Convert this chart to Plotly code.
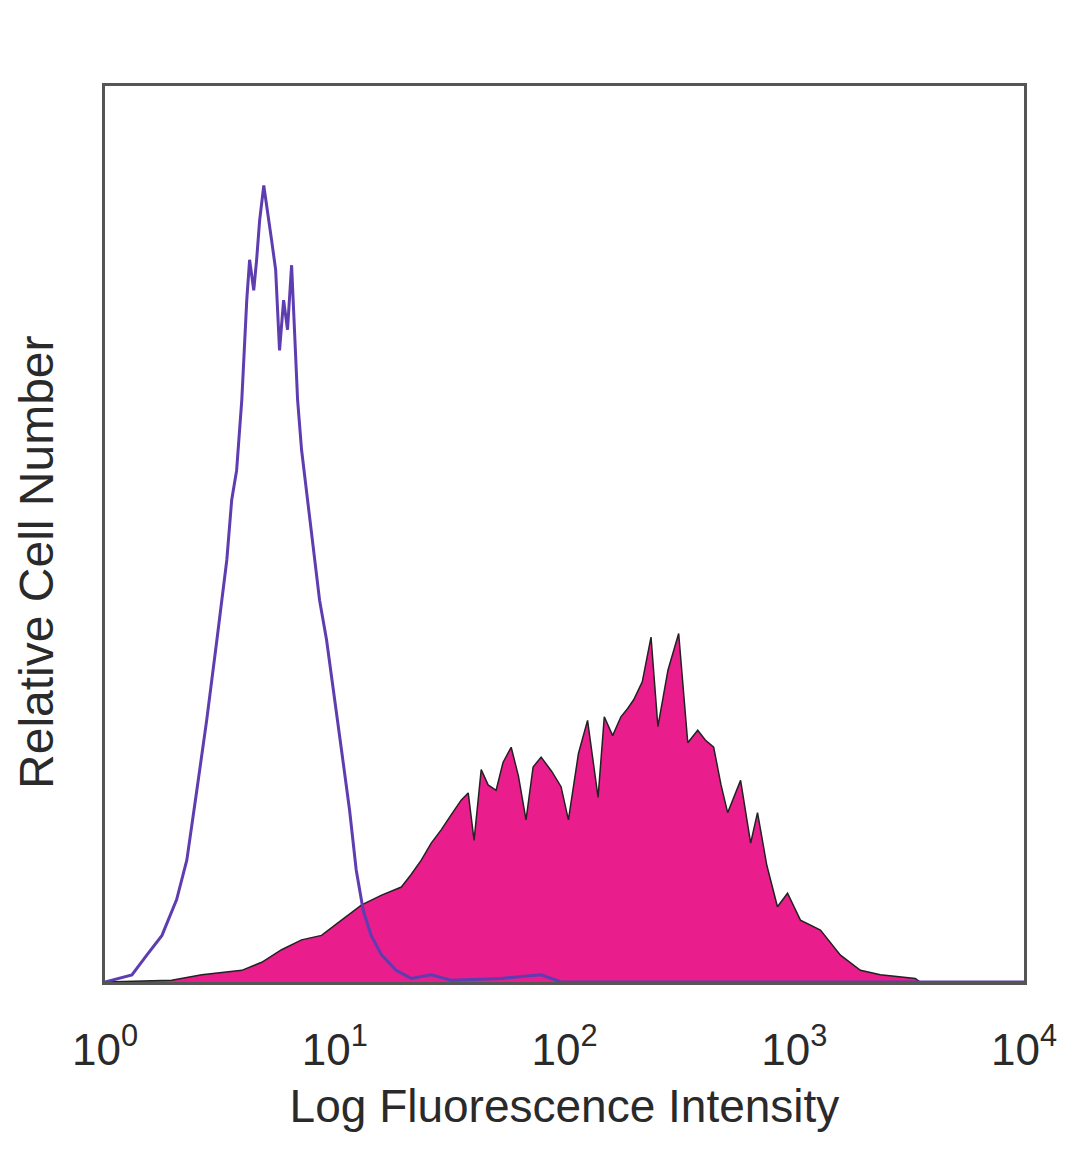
import plotly.graph_objects as go

# Isotype control (purple outline) - fluorescence intensity and relative count
control_x = [1.0, 1.31, 1.52, 1.77, 2.05, 2.27, 2.51, 2.77, 3.07, 3.39, 3.56, 3.74, 3.94, 4.14,
             4.26, 4.44, 4.57, 4.71, 4.91, 5.10, 5.31, 5.53, 5.75, 5.99, 6.23, 6.49, 6.69, 6.89,
             7.17, 7.54, 7.93, 8.59, 9.21, 9.88, 10.7, 11.6, 12.4, 13.3, 14.4, 16.0, 18.5, 21.5,
             26.3, 32.1, 53.0, 79.1, 96.6, 10000]
control_y = [0, 0.8, 3.0, 5.2, 9.2, 13.6, 21.4, 29.2, 38.2, 47.1, 53.8, 57.1, 65.0, 76.1,
             80.6, 77.2, 80.6, 85.0, 88.9, 86.2, 82.8, 79.5, 70.5, 76.1, 72.8, 80.0, 71.6, 65.0,
             59.4, 54.9, 50.4, 42.6, 38.2, 32.6, 25.9, 19.2, 12.5, 8.0, 5.2, 3.0, 1.3, 0.4,
             0.8, 0.2, 0.4, 0.8, 0, 0]

# Stained sample (filled magenta)
stained_x = [1.0, 1.95, 2.64, 3.94, 4.81, 5.87, 7.17, 8.76, 10.7, 13.1, 16.0, 19.5, 21.5, 23.8,
             26.3, 29.1, 32.0, 35.5, 38.1, 40.4, 43.4, 46.5, 50.4, 54.0, 58.6, 63.0, 68.0, 73.0,
             79.1, 88.0, 96.6, 104, 115, 126, 140, 149, 162, 176, 188, 200, 218, 238, 255, 282,
             314, 344, 380, 410, 446, 480, 513, 584, 646, 692, 760, 845, 935, 1064, 1300,
             1589, 1941, 2371, 3365, 3533, 10000]
stained_y = [0, 0.2, 0.8, 1.3, 2.2, 3.6, 4.7, 5.2, 6.9, 8.6, 9.7, 10.6, 12.0, 13.6,
             15.5, 17.0, 18.6, 20.3, 21.1, 15.8, 23.7, 22.0, 21.4, 24.5, 26.2, 23.0, 18.1, 24.0,
             25.1, 23.5, 21.8, 18.1, 25.5, 29.2, 20.6, 29.6, 27.5, 29.6, 30.5,
             31.5, 33.5, 38.5, 28.5, 34.8, 38.9, 26.7, 28.1, 27.0, 26.2, 22.0, 18.9, 22.5, 15.5,
             18.9, 13.0, 8.4, 9.9, 6.9, 5.8, 3.0, 1.3, 0.8, 0.4, 0, 0]

tick_vals = [1, 10, 100, 1000, 10000]
tick_text = ["10<sup>0</sup>", "10<sup>1</sup>", "10<sup>2</sup>", "10<sup>3</sup>", "10<sup>4</sup>"]

fig = go.Figure()
fig.add_trace(go.Scatter(
    x=stained_x, y=stained_y, mode="lines", fill="tozeroy",
    fillcolor="#E91E8C", line=dict(color="#222222", width=1.5),
    showlegend=False, hoverinfo="skip"))
fig.add_trace(go.Scatter(
    x=control_x, y=control_y, mode="lines",
    line=dict(color="#5E3DB0", width=3),
    showlegend=False, hoverinfo="skip"))

font_family = "Liberation Sans, Arial, sans-serif"
fig.update_layout(
    width=1080, height=1169,
    margin=dict(l=97, r=64, t=78, b=195),
    paper_bgcolor="white", plot_bgcolor="white",
    font=dict(family=font_family, color="#2a2a2a"),
    xaxis=dict(
        type="log", range=[0, 4], tickvals=tick_vals, ticktext=tick_text,
        ticks="", showgrid=False, zeroline=False,
        showline=True, mirror=True, linecolor="#555555", linewidth=2.5,
        tickfont=dict(size=44, color="#2a2a2a"), ticklabelstandoff=27,
        title=dict(text="Log Fluorescence Intensity", font=dict(size=46, color="#2a2a2a"), standoff=18),
    ),
    yaxis=dict(
        range=[0, 100], showticklabels=False, ticks="", showgrid=False, zeroline=False,
        showline=True, mirror=True, linecolor="#555555", linewidth=2.5,
    ),
    annotations=[dict(
        text="Relative Cell Number", textangle=-90, showarrow=False,
        xref="paper", yref="paper", x=-0.0738, y=0.469,
        xanchor="center", yanchor="middle",
        font=dict(size=48, color="#2a2a2a"),
    )],
)

fig.write_html("out.html")
